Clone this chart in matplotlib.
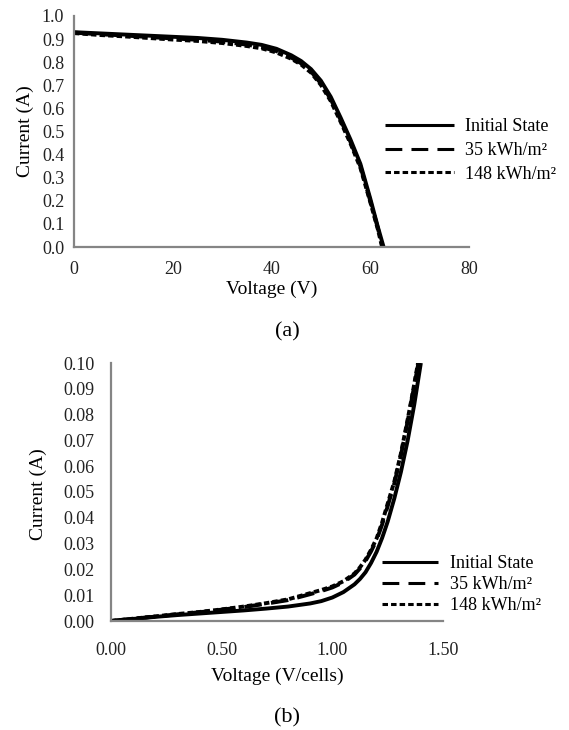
import matplotlib
matplotlib.use("Agg")
import matplotlib.pyplot as plt

plt.rcParams['font.family'] = ['Liberation Serif', 'DejaVu Serif']

labels = ['Initial State', '35 kWh/m²', '148 kWh/m²']

# (a) I-V curves of the module
v_init = [0, 5, 10, 15, 20, 25, 30, 35, 38, 41, 44, 46, 48, 50, 52, 54, 56, 58, 60, 61.5, 62.7]
i_init = [0.930, 0.925, 0.920, 0.915, 0.910, 0.905, 0.897, 0.885, 0.875, 0.858, 0.830, 0.805,
          0.770, 0.720, 0.650, 0.560, 0.465, 0.360, 0.210, 0.090, 0.0]
v_35 = [0, 5, 10, 15, 20, 25, 30, 35, 38, 41, 44, 46, 48, 50, 52, 54, 56, 58, 60, 61.5, 62.5]
i_35 = [0.928, 0.921, 0.916, 0.909, 0.903, 0.897, 0.889, 0.876, 0.865, 0.848, 0.820, 0.795,
        0.760, 0.708, 0.640, 0.550, 0.455, 0.350, 0.200, 0.085, 0.0]
v_148 = [0, 5, 10, 15, 20, 25, 30, 35, 38, 41, 44, 46, 48, 50, 52, 54, 56, 58, 60, 61.5, 62.4]
i_148 = [0.926, 0.918, 0.912, 0.905, 0.898, 0.892, 0.883, 0.870, 0.860, 0.842, 0.815, 0.790,
         0.755, 0.702, 0.632, 0.542, 0.448, 0.343, 0.195, 0.080, 0.0]

# (b) dark I-V curves per cell
vd_init = [0, 0.1, 0.2, 0.3, 0.4, 0.5, 0.6, 0.7, 0.8, 0.9, 0.95, 1.0, 1.05, 1.1, 1.125, 1.15,
           1.175, 1.2, 1.225, 1.25, 1.28, 1.31, 1.34, 1.37, 1.40]
id_init = [0, 0.0008, 0.0016, 0.0023, 0.0029, 0.0035, 0.0041, 0.0048, 0.0056, 0.0068, 0.0077,
           0.0091, 0.0112, 0.0142, 0.0163, 0.0189, 0.0225, 0.0268, 0.0322, 0.0385, 0.0475,
           0.0578, 0.0698, 0.0838, 0.100]
vd_35 = [0, 0.1, 0.2, 0.3, 0.4, 0.5, 0.6, 0.7, 0.8, 0.9, 0.95, 1.0, 1.05, 1.1, 1.125, 1.15,
         1.175, 1.2, 1.225, 1.25, 1.28, 1.31, 1.34, 1.36, 1.389]
id_35 = [0, 0.0009, 0.0017, 0.0026, 0.0034, 0.0044, 0.0054, 0.0067, 0.0081, 0.0104, 0.0116,
         0.0130, 0.0150, 0.0180, 0.0204, 0.0233, 0.0270, 0.0314, 0.0374, 0.0445, 0.0533,
         0.0643, 0.0773, 0.0865, 0.100]
vd_148 = [0, 0.1, 0.2, 0.3, 0.4, 0.5, 0.6, 0.7, 0.8, 0.9, 0.95, 1.0, 1.05, 1.1, 1.125, 1.15,
          1.175, 1.2, 1.225, 1.25, 1.28, 1.31, 1.34, 1.36, 1.387]
id_148 = [0, 0.0009, 0.0018, 0.0027, 0.0035, 0.0045, 0.0056, 0.0069, 0.0084, 0.0108, 0.0120,
          0.0134, 0.0154, 0.0184, 0.0208, 0.0238, 0.0276, 0.0320, 0.0382, 0.0455, 0.0540,
          0.0650, 0.0780, 0.0870, 0.100]

xticks_a = [0, 20, 40, 60, 80]
yticks_a = [0.0, 0.1, 0.2, 0.3, 0.4, 0.5, 0.6, 0.7, 0.8, 0.9, 1.0]
xticks_b = [0.0, 0.5, 1.0, 1.5]
yticks_b = [0.00, 0.01, 0.02, 0.03, 0.04, 0.05, 0.06, 0.07, 0.08, 0.09, 0.10]

fig = plt.figure(figsize=(5.69, 7.30), dpi=100)
W, H = 569, 730

def axes_px(x0, y0, x1, y1):
    return fig.add_axes([x0 / W, 1 - y1 / H, (x1 - x0) / W, (y1 - y0) / H])

def style(ax, xpad, ypad):
    for s in ['top', 'right']:
        ax.spines[s].set_visible(False)
    for s in ['left', 'bottom']:
        ax.spines[s].set_color('#858585')
        ax.spines[s].set_linewidth(1.6)
    ax.tick_params(axis='x', length=0, pad=xpad, labelsize=13, colors='#222222')
    ax.tick_params(axis='y', length=0, pad=ypad, labelsize=13, colors='#222222')
    ax.patch.set_alpha(0)

def draw(ax, xs, ys):
    l1, = ax.plot(xs[0], ys[0], color='black', lw=2.8, solid_capstyle='butt')
    l2, = ax.plot(xs[1], ys[1], color='black', lw=2.8, dashes=(4.5, 2.4))
    l3, = ax.plot(xs[2], ys[2], color='black', lw=2.8, dashes=(1.4, 0.8))
    return [l1, l2, l3]

def add_legend(ax, lines, x, y, hlen, spacing):
    leg = ax.legend(lines, labels, loc='upper left', bbox_to_anchor=(x / W, 1 - y / H),
                    bbox_transform=fig.transFigure, frameon=False, fontsize=13,
                    borderpad=0, borderaxespad=0, handlelength=hlen, handletextpad=0.65,
                    labelspacing=spacing)
    for h, d in zip(leg.get_lines(), [None, (5.5, 3), (1.8, 1.0)]):
        h.set_linewidth(2.2)
        if d:
            h.set_dashes(d)
    return leg

# ---- (a)
ax1 = axes_px(74, 16, 469, 247)
lines = draw(ax1, [v_init, v_35, v_148], [i_init, i_35, i_148])
ax1.set_xlim(0, 80)
ax1.set_ylim(0, 1.0)
ax1.set_xticks(xticks_a)
ax1.set_yticks(yticks_a)
ax1.set_yticklabels(['%.1f' % t for t in yticks_a])
style(ax1, 10, 7)
ax1.set_xlabel('Voltage (V)', fontsize=14)
ax1.xaxis.label.set_va('center')
ax1.xaxis.set_label_coords(0.5, (247 - 289) / 231)
ax1.set_ylabel('Current (A)', fontsize=14)
ax1.yaxis.label.set_va('center')
ax1.yaxis.set_label_coords((25 - 74) / 395, 0.5)
add_legend(ax1, lines, 385, 118, 3.8, 0.38)

# ---- (b)
ax2 = axes_px(111, 363, 443, 621)
lines2 = draw(ax2, [vd_init, vd_35, vd_148], [id_init, id_35, id_148])
ax2.set_xlim(0, 1.5)
ax2.set_ylim(0, 0.10)
ax2.set_xticks(xticks_b)
ax2.set_xticklabels(['%.2f' % t for t in xticks_b])
ax2.set_yticks(yticks_b)
ax2.set_yticklabels(['%.2f' % t for t in yticks_b])
style(ax2, 15, 12)
ax2.set_xlabel('Voltage (V/cells)', fontsize=14)
ax2.xaxis.label.set_va('center')
ax2.xaxis.set_label_coords(0.5, (621 - 676) / 258)
ax2.set_ylabel('Current (A)', fontsize=14)
ax2.yaxis.label.set_va('center')
ax2.yaxis.set_label_coords((38 - 111) / 332, 0.49)
add_legend(ax2, lines2, 382, 555, 3.1, 0.22)

fig.text(287 / W, 1 - 332 / H, '(a)', fontsize=16, ha='center', va='center')
fig.text(287 / W, 1 - 718 / H, '(b)', fontsize=16, ha='center', va='center')

fig.savefig('out.png', dpi=100)
